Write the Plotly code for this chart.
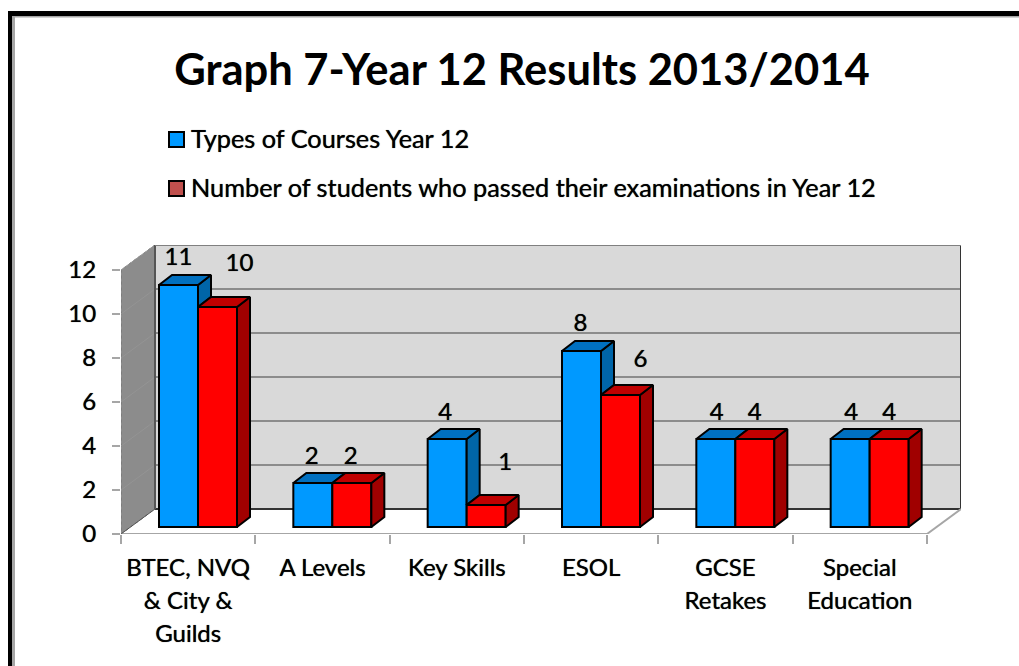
import plotly.graph_objects as go

title = "Graph 7-Year 12 Results 2013/2014"
categories = ["BTEC, NVQ<br>& City &<br>Guilds", "A Levels", "Key Skills", "ESOL", "GCSE<br>Retakes", "Special<br>Education"]
series_a_name = "Types of Courses Year 12"
series_b_name = "Number of students who passed their examinations in Year 12"
courses = [11, 2, 4, 8, 4, 4]
passed = [10, 2, 1, 6, 4, 4]
yticks = [0, 2, 4, 6, 8, 10, 12]

# layout geometry (pixels)
W, H = 1019, 666
L, R, T, B = 121, 961, 245, 534
CAT_PX = (927 - 121) / 6
VAL_PX = 22.0
BX, BY = 34 / CAT_PX, 25 / VAL_PX       # depth of floor / walls
DX, DY = 13 / CAT_PX, 10 / VAL_PX       # depth of a bar
START, BW = 38 / CAT_PX, 39 / CAT_PX    # bar inset and width
LIFT = 7 / VAL_PX                       # bar base above front edge of floor
# manual label offsets from the bar's front-top centre (px)
a_off = [(0, 26), (-1, 25), (-2, 25), (-1, 26), (1, 25), (1, 25)]
b_off = [(22, 42), (-1, 25), (19, 41), (20, 34), (0, 25), (0, 25)]

xr = [0, (R - L) / CAT_PX]
yr = [0, (B - T) / VAL_PX]
n = len(categories)
TXT = "Lato"
GRID = "#8c8c8c"
HALO = "0 0 0.7px rgba(0,0,0,0.9)"


def faces(vals, xstart, lower=None):
    side_x, side_y, top_x, top_y = [], [], [], []
    for i, v in enumerate(vals):
        x0 = i + xstart
        x1 = x0 + BW
        t = LIFT + v
        b = LIFT if lower is None else LIFT + min(lower[i], v)
        side_x += [x1, x1 + DX, x1 + DX, x1, x1, None]
        side_y += [b, b + DY, t + DY, t, b, None]
        top_x += [x0, x0 + DX, x1 + DX, x1, x0, None]
        top_y += [t, t + DY, t + DY, t, t, None]
    return side_x, side_y, top_x, top_y


def poly(x, y, fill):
    return go.Scatter(x=x, y=y, mode="lines", fill="toself", fillcolor=fill,
                      line=dict(color="black", width=2), showlegend=False, hoverinfo="skip")


fig = go.Figure()
fig.add_trace(go.Bar(x=[i + START + BW / 2 for i in range(n)], y=courses, base=LIFT, width=BW,
                     marker=dict(color="#0099ff", line=dict(color="black", width=2)),
                     showlegend=False, hoverinfo="skip"))
fig.add_trace(go.Bar(x=[i + START + BW * 1.5 for i in range(n)], y=passed, base=LIFT, width=BW,
                     marker=dict(color="#ff0000", line=dict(color="black", width=2)),
                     showlegend=False, hoverinfo="skip"))

sx, sy, tx, ty = faces(courses, START, lower=passed)
fig.add_trace(poly(sx, sy, "#0065a8"))
fig.add_trace(poly(tx, ty, "#0070c0"))
sx, sy, tx, ty = faces(passed, START + BW)
fig.add_trace(poly(sx, sy, "#a00000"))
fig.add_trace(poly(tx, ty, "#c00000"))

# data labels
lab_x, lab_y, lab_t = [], [], []
for i in range(n):
    lab_x.append(i + START + BW / 2 + a_off[i][0] / CAT_PX)
    lab_y.append(LIFT + courses[i] + a_off[i][1] / VAL_PX)
    lab_t.append(str(courses[i]))
    lab_x.append(i + START + BW * 1.5 + b_off[i][0] / CAT_PX)
    lab_y.append(LIFT + passed[i] + b_off[i][1] / VAL_PX)
    lab_t.append(str(passed[i]))
fig.add_trace(go.Scatter(x=lab_x, y=lab_y, text=lab_t, mode="text", textposition="middle center",
                         textfont=dict(family=TXT, size=24, color="black", shadow=HALO),
                         showlegend=False, hoverinfo="skip", cliponaxis=False))

# legend entries: the text is the legend's; swatches are positioned below
for name, grp in [(series_a_name, "a"), (series_b_name, "b")]:
    fig.add_trace(go.Scatter(x=[None], y=[None], mode="markers", name=name, legendgroup=grp,
                             marker=dict(symbol="square", size=16, color="rgba(0,0,0,0)",
                                         line=dict(width=0))))

# walls and floor
shapes = []
ymax = yr[1]
xmax = xr[1]
fx = xmax - BX
shapes.append(dict(type="path", layer="below",
                   path=f"M 0 0 L {BX} {BY} L {BX} {ymax} L 0 {12} Z",
                   fillcolor="#8c8c8c", line=dict(color="#6f6f6f", width=1, dash="dot")))
shapes.append(dict(type="rect", layer="below", x0=BX, x1=xmax, y0=BY, y1=ymax,
                   fillcolor="#d9d9d9", line=dict(width=0)))
for v in yticks[1:]:
    shapes.append(dict(type="line", layer="below", x0=BX, x1=xmax, y0=v + BY, y1=v + BY,
                       line=dict(color=GRID, width=2)))
    shapes.append(dict(type="line", layer="below", x0=0, x1=BX, y0=v, y1=v + BY,
                       line=dict(color="#949494", width=1)))
edge = [(BX, BY, xmax, BY, "#333333", 2), (xmax, BY, xmax, ymax, "#333333", 2),
        (BX, BY, BX, ymax, "#555555", 2), (BX, ymax, xmax, ymax, "#808080", 2),
        (0, 0, fx, 0, "#a6a6a6", 2), (fx, 0, xmax, BY, "#a6a6a6", 2),
        (0, 0, BX, BY, "#555555", 1)]
for x0, y0, x1, y1, c, w in edge:
    shapes.append(dict(type="line", layer="below", x0=x0, y0=y0, x1=x1, y1=y1, line=dict(color=c, width=w)))

# picture frame and legend swatches (pixels → paper fractions of the plot area)
def fxp(px): return (px - L) / (R - L)
def fyp(py): return (B - py) / (B - T)
for x0, y0, x1, y1, c in [(8, 11, W, 16, "black"), (8, 11, 12, H, "black"),
                          (12, 16, W, 17.5, "#a6a6a6"), (12, 16, 15, H, "#a6a6a6")]:
    shapes.append(dict(type="rect", xref="paper", yref="paper", layer="above",
                       x0=fxp(x0), x1=fxp(x1), y0=fyp(y0), y1=fyp(y1),
                       fillcolor=c, line=dict(width=0)))
for y0, c in [(132, "#0099ff"), (181, "#c0504d")]:
    shapes.append(dict(type="rect", xref="paper", yref="paper", layer="above",
                       x0=fxp(169), x1=fxp(184), y0=fyp(y0), y1=fyp(y0 + 15),
                       fillcolor=c, line=dict(color="black", width=2)))

SP = '<span style="font-size:24px">'
ticktext = ["<br>".join(SP + line + "</span>" for line in c.split("<br>")) for c in categories]

fig.update_layout(
    width=W, height=H, autosize=False,
    margin=dict(l=L, r=W - R, t=T, b=H - B, autoexpand=False),
    paper_bgcolor="white", plot_bgcolor="rgba(0,0,0,0)",
    barmode="overlay", shapes=shapes,
    font=dict(family=TXT, color="black"),
    title=dict(text=title, x=522 / W, xanchor="center", y=1 - 70 / H, yanchor="middle",
               xref="container", yref="container", automargin=False,
               font=dict(family=TXT, size=43.5, weight=700, color="black")),
    legend=dict(x=156.5 / W, xanchor="left", xref="container",
                y=1 - 115 / H, yanchor="top", yref="container",
                font=dict(family=TXT, size=25.3, color="black", shadow=HALO),
                tracegroupgap=13, indentation=-5.5, bgcolor="rgba(0,0,0,0)", itemclick=False, itemdoubleclick=False),
    xaxis=dict(range=xr, tickmode="array", tickvals=[i + 0.5 for i in range(n)], ticktext=ticktext,
               ticks="", showgrid=False, zeroline=False, showline=False, fixedrange=True, automargin=False,
               tickangle=0, tickfont=dict(family=TXT, size=25.4, color="black", shadow=HALO), ticklabelstandoff=16,
               minor=dict(tickmode="array", tickvals=list(range(n + 1)), ticks="outside", ticklen=9,
                          tickwidth=2, tickcolor="#a6a6a6", showgrid=False)),
    yaxis=dict(range=yr, tickmode="array", tickvals=yticks, ticks="outside", ticklen=8, tickwidth=2,
               tickcolor="#a6a6a6", showgrid=False, zeroline=False, showline=False, fixedrange=True, automargin=False,
               tickfont=dict(family=TXT, size=24, color="black", shadow=HALO), ticklabelstandoff=11),
)

fig.write_html("out.html", config=dict(displayModeBar=False),
               post_script="document.body.style.margin='0';document.body.style.overflow='hidden';")
